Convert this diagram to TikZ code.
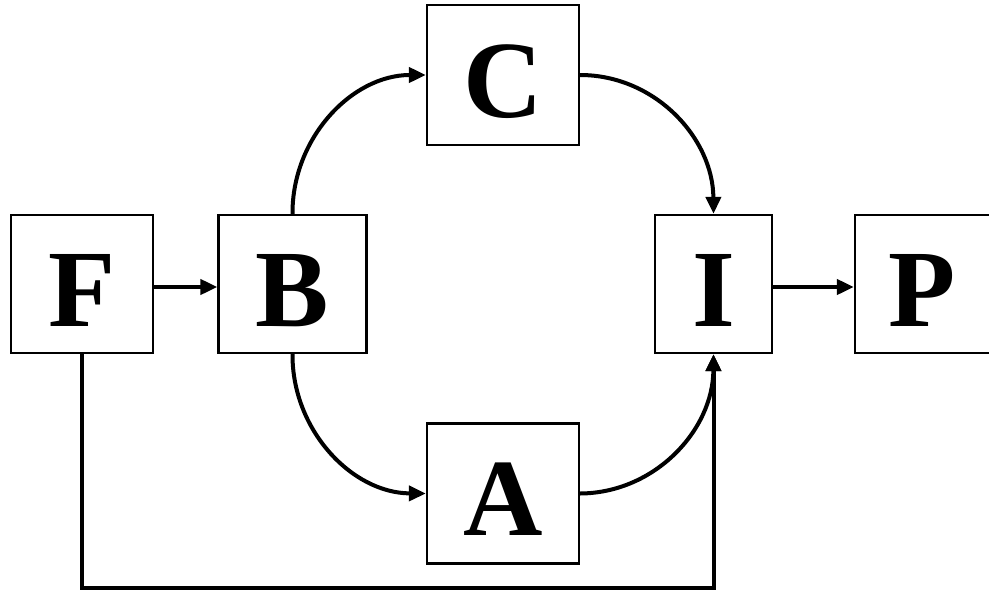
\documentclass[tikz,border=0pt]{standalone}
\usepackage{fontspec}
\newfontfamily\lbf{Liberation Serif}[UprightFont={* Bold}]
\usetikzlibrary{arrows.meta}
\tikzset{
  lettr/.style={font=\lbf\fontsize{110}{110}\selectfont},
  blk/.style={draw, line width=2.2pt, inner sep=0pt, text height=84pt, text depth=0pt,
    lettr, minimum height=138pt},
  conn/.style={line width=4pt, -{Triangle[length=17pt 0,width=15pt 0]}}
}
\begin{document}
\begin{tikzpicture}[x=1pt,y=-1pt]
\useasboundingbox (0,0) rectangle (989,592);
\clip (0,0) rectangle (989,592);
\fill[white] (0,0) rectangle (989,592);
\node[blk, minimum width=142pt] (F) at (82,284) {F};
\node[blk, minimum width=148pt] (B) at (292.5,284) {B};
\node[blk, minimum width=152pt, minimum height=140pt] (C) at (503,75) {C};
\node[blk, minimum width=152pt, minimum height=140pt] (A) at (503,493.5) {A};
\node[blk, minimum width=117pt] (I) at (713.5,284) {I};
\node[blk, minimum width=150pt] (P) at (930,284) {};
\node[lettr, inner sep=0pt, anchor=base] (Pt) at (922,326) {P};
\draw[conn] ([yshift=-3pt]F.east) -- ([yshift=-3pt]B.west);
\draw[conn] ([yshift=-3pt]I.east) -- ([yshift=-3pt]P.west);
\draw[conn] (B.north) .. controls (292,138) and (352,75) .. (C.west);
\draw[conn] (C.east) .. controls (655,75) and (713,138) .. (I.north);
\draw[conn] (B.south) .. controls (292,430) and (352,493) .. (A.west);
\draw[conn] (A.east) .. controls (655,493) and (713,430) .. (I.south);
\coordinate (c1) at (82,588);
\coordinate (c2) at (713.5,588);
\draw[conn] (F.south) -- (c1) -- (c2) -- (I.south);
\end{tikzpicture}
\end{document}
